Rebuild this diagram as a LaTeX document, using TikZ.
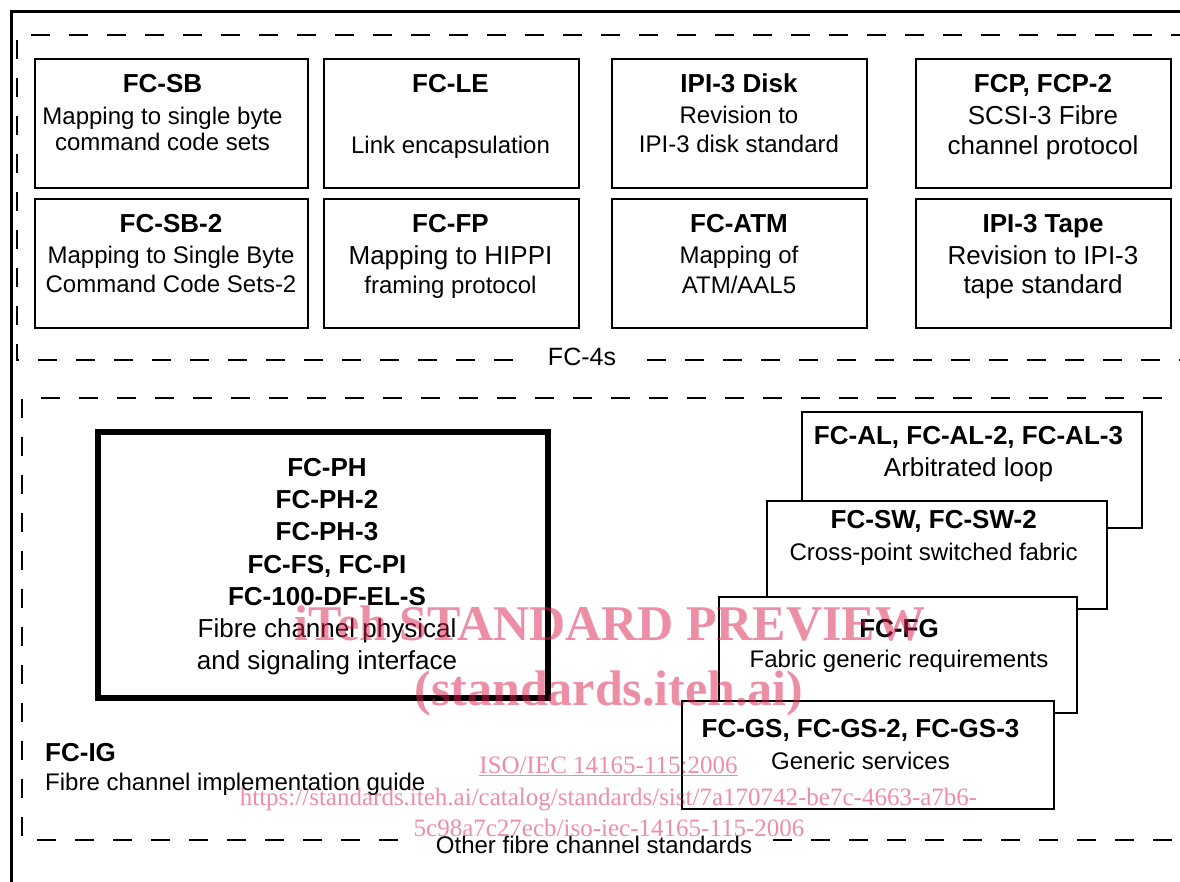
\documentclass[tikz,border=0pt]{standalone}
\usepackage{fontspec}
\setmainfont{Liberation Sans}
\newfontfamily\wmfont{Liberation Serif}
\definecolor{wmpink}{RGB}{221,31,81}
\begin{document}
\begin{tikzpicture}[x=1pt,y=-1pt,
  frame/.style={line width=3pt},
  dashbox/.style={line width=2pt, dash pattern=on 19pt off 19pt},
  fbox/.style={draw, line width=2pt, fill=white, inner sep=0pt, anchor=north west},
  phbox/.style={draw, line width=6pt, inner sep=0pt, anchor=north west},
  r24/.style={inner sep=0pt, anchor=base, font=\fontsize{24}{28}\selectfont},
  r25/.style={inner sep=0pt, anchor=base, font=\fontsize{25}{29}\selectfont},
  r26/.style={inner sep=0pt, anchor=base, font=\fontsize{26}{30}\selectfont},
  b26/.style={inner sep=0pt, anchor=base, font=\bfseries\fontsize{26}{30}\selectfont},
  wm/.style={inner sep=0pt, anchor=base, text=wmpink, text opacity=0.5},
  wmbig/.style={wm, font=\wmfont\bfseries\fontsize{50}{50}\selectfont},
  wmsmall/.style={wm, font=\wmfont\fontsize{25}{25}\selectfont}]
\useasboundingbox (0,0) rectangle (1180,881);
\clip (0,0) rectangle (1180,881);
\fill[white] (0,0) rectangle (1180,881);

% outer frame
\draw[frame] (1195,11.5) -- (11.5,11.5) -- (11.5,895);

% FC-4s dashed group
\draw[dashbox] (513,360) -- (16.5,360) -- (16.5,35.3) -- (1195,35.3);
\draw[dashbox] (647,360) -- (1195,360);
\node[r25] (fc4) at (582,365) {FC-4s};

% row 1
\node[fbox, minimum width=273pt, minimum height=129pt] (sb) at (34,58) {};
\node[fbox, minimum width=255pt, minimum height=129pt] (le) at (323,58) {};
\node[fbox, minimum width=255pt, minimum height=129pt] (ipid) at (611,58) {};
\node[fbox, minimum width=255pt, minimum height=129pt] (fcp) at (915,58) {};
% row 2
\node[fbox, minimum width=273pt, minimum height=129pt] (sb2) at (34,198) {};
\node[fbox, minimum width=255pt, minimum height=129pt] (fp) at (323,198) {};
\node[fbox, minimum width=255pt, minimum height=129pt] (atm) at (611,198) {};
\node[fbox, minimum width=255pt, minimum height=129pt] (tape) at (915,198) {};

\node[b26] (sbT) at (162.5,92) {FC-SB};
\node[r24] (sbA) at (162.5,124) {Mapping to single byte};
\node[r24] (sbB) at (162.5,150) {command code sets};
\node[b26] (leT) at (450.5,92) {FC-LE};
\node[r24] (leA) at (450.5,153) {Link encapsulation};
\node[b26] (idT) at (739,92) {IPI-3 Disk};
\node[r24] (idA) at (739,123) {Revision to};
\node[r24] (idB) at (739,152.5) {IPI-3 disk standard};
\node[b26] (fcpT) at (1043,92) {FCP, FCP-2};
\node[r26] (fcpA) at (1043,124.5) {SCSI-3 Fibre};
\node[r26] (fcpB) at (1043,154) {channel protocol};

\node[b26] (sb2T) at (171,232) {FC-SB-2};
\node[r24] (sb2A) at (171,263.5) {Mapping to Single Byte};
\node[r24] (sb2B) at (171,292.5) {Command Code Sets-2};
\node[b26] (fpT) at (450.5,232) {FC-FP};
\node[r26] (fpA) at (450.5,264.3) {Mapping to HIPPI};
\node[r24] (fpB) at (450.5,293.8) {framing protocol};
\node[b26] (atmT) at (739,232) {FC-ATM};
\node[r24] (atmA) at (739,263.6) {Mapping of};
\node[r24] (atmB) at (739,293.6) {ATM/AAL5};
\node[b26] (tapeT) at (1043,232) {IPI-3 Tape};
\node[r26] (tapeA) at (1043,264.3) {Revision to IPI-3};
\node[r26] (tapeB) at (1043,293) {tape standard};

% other fibre channel standards dashed group
\draw[dashbox] (398,840) -- (22.3,840) -- (22.3,398.3) -- (1195,398.3);
\draw[dashbox] (773,840) -- (1195,840);
\node[r24] (oth) at (594,853.6) {Other fibre channel standards};

% FC-PH box
\node[phbox, minimum width=450pt, minimum height=266.5pt] (ph) at (94.5,428.5) {};
\node[b26] (ph1) at (327,476.5) {FC-PH};
\node[b26] (ph2) at (327,508.7) {FC-PH-2};
\node[b26] (ph3) at (327,540.9) {FC-PH-3};
\node[b26] (ph4) at (327,573.1) {FC-FS, FC-PI};
\node[b26] (ph5) at (327,605.3) {FC-100-DF-EL-S};
\node[r26] (ph6) at (327,637.5) {Fibre channel physical};
\node[r26] (ph7) at (327,669.7) {and signaling interface};

% stacked boxes
\node[fbox, minimum width=340pt, minimum height=116pt] (al) at (801,411) {};
\node[b26] (alT) at (968.5,444.3) {FC-AL, FC-AL-2, FC-AL-3};
\node[r26] (alA) at (968.5,476) {Arbitrated loop};
\node[fbox, minimum width=340pt, minimum height=108pt] (sw) at (766,500) {};
\node[b26] (swT) at (933.7,528.3) {FC-SW, FC-SW-2};
\node[r24] (swA) at (933.7,560) {Cross-point switched fabric};
\node[fbox, minimum width=358pt, minimum height=116pt] (fg) at (718,596) {};
\node[b26] (fgT) at (899,637.3) {FC-FG};
\node[r24] (fgA) at (899,667.6) {Fabric generic requirements};
\node[fbox, minimum width=372pt, minimum height=108pt] (gs) at (681,700) {};
\node[b26] (gsT) at (860.5,737.3) {FC-GS, FC-GS-2, FC-GS-3};
\node[r24] (gsA) at (860.5,769.6) {Generic services};

% FC-IG
\node[b26, anchor=base west] (igT) at (45,761) {FC-IG};
\node[r24, anchor=base west] (igA) at (45,790.5) {Fibre channel implementation guide};

% watermark
\node[wmbig] (wm1) at (610,640) {iTeh STANDARD PREVIEW};
\node[wmbig] (wm2) at (609,705) {(standards.iteh.ai)};
\node[wmsmall] (wm3) at (608.5,773) {\underline{ISO/IEC 14165-115:2006}};
\node[wmsmall] (wm4) at (608.5,805) {https://standards.iteh.ai/catalog/standards/sist/7a170742-be7c-4663-a7b6-};
\node[wmsmall] (wm5) at (609,836) {5c98a7c27ecb/iso-iec-14165-115-2006};
\end{tikzpicture}
\end{document}
